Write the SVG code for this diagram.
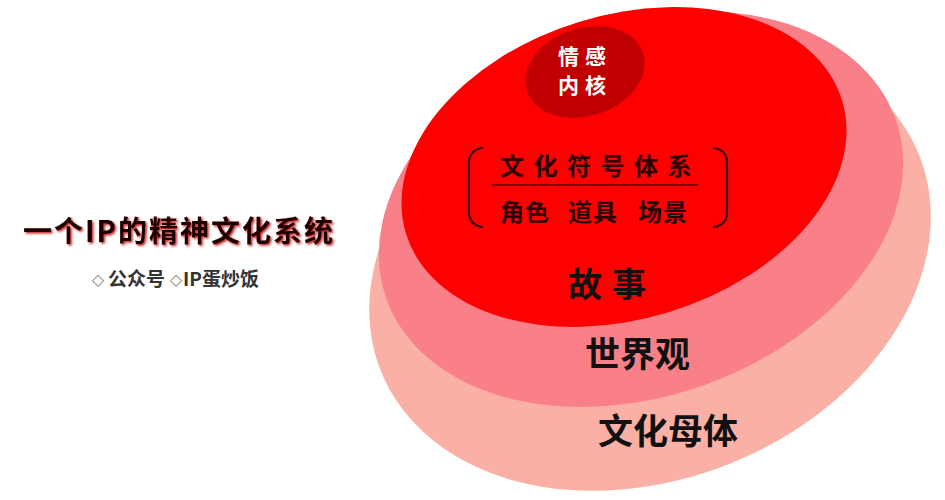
<svg xmlns="http://www.w3.org/2000/svg" width="945" height="500" viewBox="0 0 945 500">
<defs>
<filter id="shadow" x="-10%" y="-30%" width="120%" height="160%">
<feDropShadow dx="1.5" dy="1.5" stdDeviation="1" flood-color="#C00000" flood-opacity="0.9"/>
</filter>
</defs>
<style>
.cjk{font-family:"Noto Sans CJK SC","Noto Sans",sans-serif}
.big{font-size:35px;font-weight:bold;fill:#111}
.mid{font-size:24px;font-weight:bold;fill:#2a0000}
.core{font-size:21px;font-weight:bold;fill:#fff;letter-spacing:6px}
.bracket{fill:none;stroke:#3a0000;stroke-width:2.2;stroke-linecap:round}
</style>
<rect width="945" height="500" fill="#fff"/>
<g id="culture-matrix">
<ellipse cx="650" cy="263" rx="290" ry="216" transform="rotate(-22 650 263)" fill="#FAB0A4"/>
<text class="cjk big" x="598" y="444">文化母体</text>
</g>
<g id="worldview">
<ellipse cx="641" cy="209" rx="270" ry="187" transform="rotate(-19.4 641 209)" fill="#F98088"/>
<text class="cjk big" x="585" y="367">世界观</text>
</g>
<g id="story">
<ellipse cx="624" cy="167" rx="228" ry="152" transform="rotate(-17 624 167)" fill="#FF0000"/>
<text class="cjk big" x="568" y="297" style="font-size:34px;letter-spacing:10px">故事</text>
</g>
<g id="symbol-system">
<path class="bracket" d="M482 148 Q469 150 469 163 L469 212 Q469 225 482 227"/>
<path class="bracket" d="M714 148 Q727 150 727 163 L727 212 Q727 225 714 227"/>
<text class="cjk mid" x="500" y="175" style="letter-spacing:9.5px">文化符号体系</text>
<line x1="492" y1="185" x2="698" y2="185" stroke="#5a0000" stroke-width="1.5"/>
<text class="cjk mid" y="221" style="letter-spacing:1px"><tspan x="500">角色</tspan><tspan x="568">道具</tspan><tspan x="638">场景</tspan></text>
</g>
<g id="emotional-core">
<ellipse cx="585" cy="72" rx="61" ry="44" transform="rotate(-18 585 72)" fill="#C00000"/>
<text class="cjk core" x="558" y="64">情感</text>
<text class="cjk core" x="558" y="93">内核</text>
</g>
<g id="title">
<text class="cjk" x="23" y="242" textLength="310" lengthAdjust="spacing" filter="url(#shadow)" style="font-size:29px;font-weight:bold;fill:#1a0000">一个IP的精神文化系统</text>
<line x1="23" y1="249.5" x2="333" y2="249.5" stroke="#6B0A0A" stroke-width="2" filter="url(#shadow)"/>
<text class="cjk" y="286" style="font-size:19px;font-weight:bold;fill:#333"><tspan x="92" style="font-size:12px">◇</tspan><tspan x="108">公众号</tspan><tspan x="170" style="font-size:12px">◇</tspan><tspan x="183">IP蛋炒饭</tspan></text>
</g>
</svg>
